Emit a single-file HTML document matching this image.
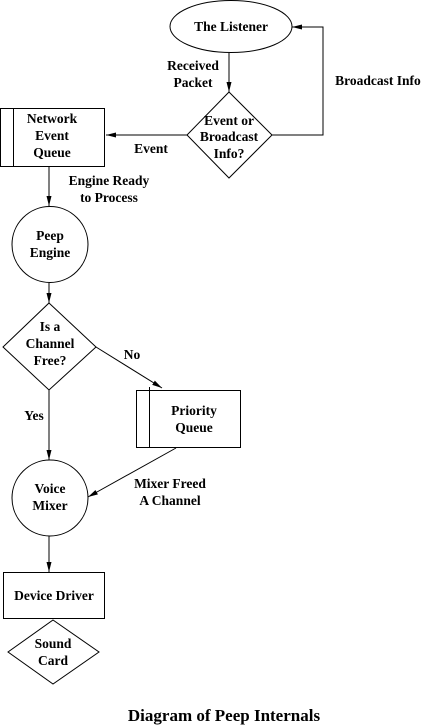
<!DOCTYPE html>
<html><head><meta charset="utf-8"><style>
html,body{margin:0;padding:0;background:#fff;}
svg{display:block;}
text{font-family:"Liberation Serif",serif;font-weight:bold;font-size:13.5px;fill:#000;}
</style></head><body>
<svg width="424" height="727" viewBox="0 0 424 727" xmlns="http://www.w3.org/2000/svg">
<defs>
<marker id="a" markerWidth="10" markerHeight="6" refX="10" refY="3" orient="auto" markerUnits="userSpaceOnUse">
<path d="M0,0.5 L10,3 L0,5.5 Z" fill="#000"/>
</marker>
</defs>
<g fill="none" stroke="#000" stroke-width="1">
<ellipse cx="231" cy="26.5" rx="61" ry="26"/>
<polygon points="229,92 272,135 229,178 187,135"/>
<rect x="0.5" y="108.5" width="104" height="58"/>
<line x1="13.5" y1="108" x2="13.5" y2="167"/>
<circle cx="50" cy="244.5" r="38"/>
<polygon points="49,303 96,347 49,390 3,347"/>
<rect x="136.5" y="390.5" width="104" height="57"/>
<line x1="149.5" y1="387" x2="149.5" y2="448"/>
<circle cx="50" cy="498" r="38"/>
<rect x="3.5" y="572.5" width="101" height="46"/>
<polygon points="53,620 99,652 53,684 8,652"/>
<line x1="229" y1="53" x2="229" y2="92" marker-end="url(#a)"/>
<polyline points="272,135 323,135 323,27 292,27" marker-end="url(#a)"/>
<line x1="187" y1="135" x2="106" y2="135" marker-end="url(#a)"/>
<line x1="49" y1="167" x2="49" y2="206" marker-end="url(#a)"/>
<line x1="49" y1="283" x2="49" y2="303" marker-end="url(#a)"/>
<line x1="96" y1="347" x2="162" y2="388" marker-end="url(#a)"/>
<line x1="49" y1="390" x2="49" y2="460" marker-end="url(#a)"/>
<line x1="176" y1="448" x2="88" y2="497" marker-end="url(#a)"/>
<line x1="49" y1="536" x2="49" y2="572" marker-end="url(#a)"/>
</g>
<g text-anchor="middle">
<text x="231" y="31">The Listener</text>
<text x="193" y="70">Received</text>
<text x="193" y="87">Packet</text>
<text x="229" y="125">Event or</text>
<text x="229" y="141">Broadcast</text>
<text x="229" y="158">Info?</text>
<text x="378" y="85">Broadcast Info</text>
<text x="151" y="153">Event</text>
<text x="52" y="123">Network</text>
<text x="52" y="140">Event</text>
<text x="52" y="157">Queue</text>
<text x="109" y="185">Engine Ready</text>
<text x="109" y="202">to Process</text>
<text x="50" y="240">Peep</text>
<text x="50" y="257">Engine</text>
<text x="50" y="331">Is a</text>
<text x="50" y="348">Channel</text>
<text x="50" y="365">Free?</text>
<text x="132" y="359">No</text>
<text x="34" y="420">Yes</text>
<text x="194" y="415">Priority</text>
<text x="194" y="432">Queue</text>
<text x="50" y="493">Voice</text>
<text x="50" y="510">Mixer</text>
<text x="170" y="488">Mixer Freed</text>
<text x="170" y="505">A Channel</text>
<text x="54" y="600">Device Driver</text>
<text x="53" y="648">Sound</text>
<text x="53" y="665">Card</text>
<text x="224" y="721" style="font-size:17px">Diagram of Peep Internals</text>
</g>
</svg>
</body></html>
